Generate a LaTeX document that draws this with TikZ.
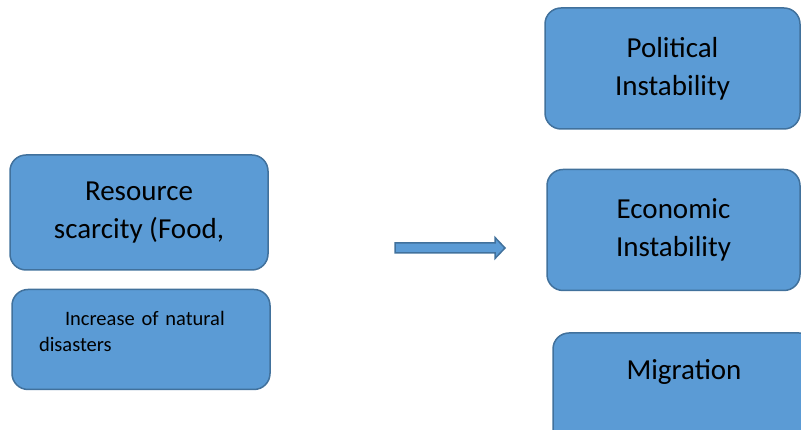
\documentclass[tikz,border=0pt]{standalone}
\usepackage{fontspec}
\setmainfont{Carlito}
\usepackage {tikz}
\usetikzlibrary{positioning}
\definecolor{boxfill}{HTML}{5B9BD5}
\definecolor{boxline}{HTML}{41719C}
\newcommand{\boxfont}{\fontsize{29}{38}\selectfont}
\newcommand{\smallboxfont}{\fontsize{20.5}{26}\selectfont}

\begin{document}
\begin{tikzpicture}[x=1pt, y=1pt,
    box/.style={rectangle, rounded corners=16pt, draw=boxline, fill=boxfill, line width=1.5pt, align=center, font=\boxfont, minimum height=121pt},]
    \useasboundingbox (0,0) rectangle (801,430);
    %Nodes
    \node[box, minimum width=258pt, minimum height=115pt] (resource) at (139,217.5) {Resource\\scarcity (Food,};
    \node[box, minimum width=258pt, minimum height=100pt, font=\smallboxfont, align=left, text width=204pt, inner xsep=27pt, text depth=43pt] (disasters) [below=18pt of resource, xshift=2pt] {\hspace*{26pt}Increase of natural\\disasters};
    \node[box, minimum width=255pt] (political) at (672.5,361.5) {Political\\Instability};
    \node[box, minimum width=253pt] (economic) [below=39pt of political, xshift=1pt] {Economic\\Instability};
    \node[box, minimum width=262pt, text height=37pt, text depth=64pt, inner ysep=10pt] (migration) [below=41pt of economic, xshift=10.5pt] {Migration};

    % %Arrow
    \draw[draw=boxline, fill=boxfill, line width=1.5pt, line join=miter] (395,187) -- (495,187) -- (495,192.5) -- (505,182) -- (495,171.5) -- (495,177) -- (395,177) -- cycle;
  \end{tikzpicture}
\end{document}
